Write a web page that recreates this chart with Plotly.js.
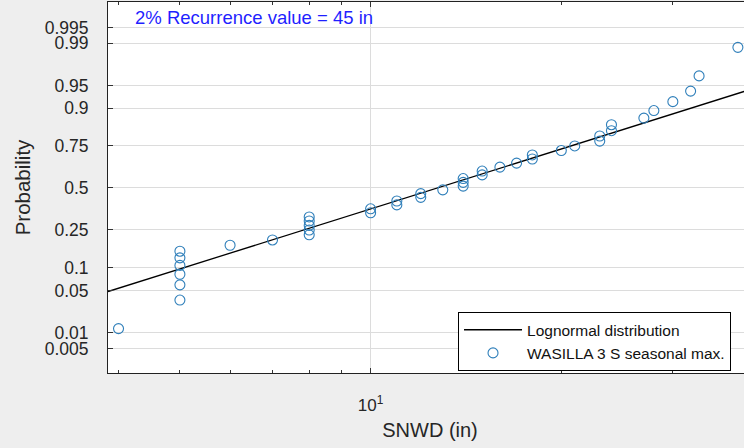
<!DOCTYPE html>
<html>
<head>
<meta charset="utf-8">
<script src="https://cdn.plot.ly/plotly-3.0.1.min.js"></script>
<style>
html,body{margin:0;padding:0;overflow:hidden;background:#eeeeee;}
#chart{position:absolute;left:0;top:0;width:760px;height:448px;}
</style>
</head>
<body>
<div id="chart"></div>
<script>
// ---- data ----
const snwd = [4,5,5,5,5,5,5,6,7,8,8,8,8,8,10,10,11,11,12,12,13,14,14,14,15,15,16,17,18,18,20,21,23,23,24,24,27,28,30,32,33,38];
const probability = [0.012,0.036,0.060,0.083,0.107,0.131,0.155,0.179,0.202,0.226,0.250,0.274,0.298,0.321,0.345,0.369,0.393,0.417,0.440,0.464,0.488,0.512,0.536,0.560,0.583,0.607,0.631,0.655,0.679,0.702,0.726,0.750,0.774,0.798,0.821,0.845,0.869,0.893,0.917,0.940,0.964,0.988];
const fitMu = 2.545;      // lognormal fit: mean of ln(SNWD)
const fitSigma = 0.72;    // lognormal fit: std of ln(SNWD)
const fitX = [3.85, 40];  // extent of the fitted line (axis limits)
const probTicks = [0.005,0.01,0.05,0.1,0.25,0.5,0.75,0.9,0.95,0.99,0.995];
const probTickText = ['0.005','0.01','0.05','0.1','0.25','0.5','0.75','0.9','0.95','0.99','0.995'];
const xMinorTicks = [4,5,6,7,8,9,20,30];
const annotationText = '2% Recurrence value = 45 in';

// inverse standard normal CDF (Acklam) -> normal probability scale
function norminv(p){
  const a=[-3.969683028665376e+01,2.209460984245205e+02,-2.759285104469687e+02,1.383577518672690e+02,-3.066479806614716e+01,2.506628277459239e+00];
  const b=[-5.447609879822406e+01,1.615858368580409e+02,-1.556989798598866e+02,6.680131188771972e+01,-1.328068155288572e+01];
  const c=[-7.784894002430293e-03,-3.223964580411365e-01,-2.400758277161838e+00,-2.549732539343734e+00,4.374664141464968e+00,2.938163982698783e+00];
  const d=[7.784695709041462e-03,3.224671290700398e-01,2.445134137142996e+00,3.754408661907416e+00];
  const pl=0.02425, ph=1-pl;
  let q,r;
  if(p<pl){q=Math.sqrt(-2*Math.log(p));return (((((c[0]*q+c[1])*q+c[2])*q+c[3])*q+c[4])*q+c[5])/((((d[0]*q+d[1])*q+d[2])*q+d[3])*q+1);}
  if(p<=ph){q=p-0.5;r=q*q;return (((((a[0]*r+a[1])*r+a[2])*r+a[3])*r+a[4])*r+a[5])*q/(((((b[0]*r+b[1])*r+b[2])*r+b[3])*r+b[4])*r+1);}
  q=Math.sqrt(-2*Math.log(1-p));
  return -(((((c[0]*q+c[1])*q+c[2])*q+c[3])*q+c[4])*q+c[5])/((((d[0]*q+d[1])*q+d[2])*q+d[3])*q+1);
}

const font = "Liberation Sans, Arial, sans-serif";

const fitTrace = {
  x: fitX,
  y: fitX.map(v => (Math.log(v) - fitMu) / fitSigma),
  mode: 'lines', type: 'scatter',
  name: 'Lognormal distribution',
  line: {color: '#000000', width: 1.3},
  hoverinfo: 'skip'
};
const dataTrace = {
  x: snwd,
  y: probability.map(norminv),
  mode: 'markers', type: 'scatter',
  name: 'WASILLA 3 S seasonal max.',
  marker: {symbol: 'circle-open', size: 10, color: '#2f7fba', line: {width: 1.1, color: '#2f7fba'}}
};

const layout = {
  width: 760, height: 448,
  margin: {l: 108, r: 8, t: 2, b: 75},
  paper_bgcolor: '#eeeeee',
  plot_bgcolor: '#ffffff',
  font: {family: font, color: '#262626'},
  showlegend: true,
  legend: {
    x: 0.5435, y: 0.164, xanchor: 'left', yanchor: 'top',
    bgcolor: '#ffffff', bordercolor: '#000000', borderwidth: 1,
    font: {family: font, size: 15.5, color: '#111111'},
    itemwidth: 58, tracegroupgap: 0
  },
  xaxis: {
    type: 'log',
    range: [Math.log10(fitX[0]), Math.log10(fitX[1])],
    tickvals: [10], ticktext: ['10<sup>1</sup>'],
    ticks: 'inside', ticklen: 5, tickcolor: '#333333',
    ticklabelstandoff: 17,
    tickfont: {family: font, size: 17, color: '#262626'},
    minor: {tickvals: xMinorTicks, ticks: 'inside', ticklen: 3, tickcolor: '#333333', showgrid: false},
    showgrid: true, gridcolor: '#dcdcdc', gridwidth: 1,
    showline: true, linecolor: '#222222', linewidth: 1, mirror: 'ticks',
    zeroline: false,
    title: {text: 'SNWD (in)', font: {family: font, size: 20, color: '#262626'}, standoff: 8}
  },
  yaxis: {
    range: [-2.97, 2.985],
    tickvals: probTicks.map(norminv), ticktext: probTickText,
    ticks: 'inside', ticklen: 5, tickcolor: '#333333',
    ticklabelstandoff: 15,
    tickfont: {family: font, size: 17.5, color: '#262626'},
    showgrid: true, gridcolor: '#dcdcdc', gridwidth: 1,
    showline: true, linecolor: '#222222', linewidth: 1, mirror: 'ticks',
    zeroline: false,
    title: {text: 'Probability', font: {family: font, size: 20.5, color: '#262626'}, standoff: 8}
  },
  annotations: [{
    text: annotationText, xref: 'paper', yref: 'paper',
    x: 0.0388, y: 0.957, xanchor: 'left', yanchor: 'middle', showarrow: false,
    font: {family: font, size: 18.5, color: '#1f1fff'}
  }]
};

Plotly.newPlot('chart', [fitTrace, dataTrace], layout, {displayModeBar: false, staticPlot: true});
</script>
</body>
</html>
